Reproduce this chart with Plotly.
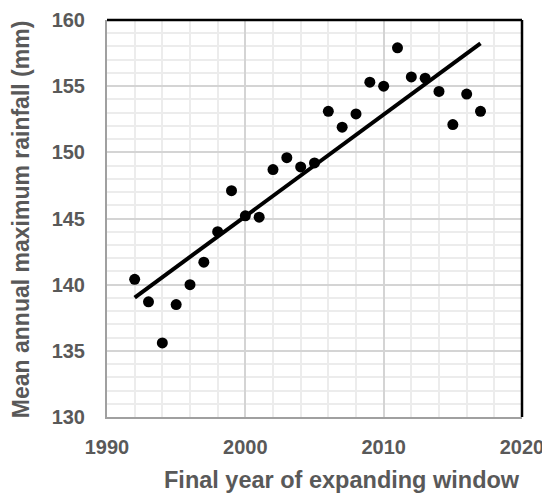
import numpy as np
import plotly.graph_objects as go

years = list(range(1992, 2018))
rainfall = [140.4, 138.7, 135.6, 138.5, 140.0, 141.7, 144.0, 147.1, 145.2, 145.1,
            148.7, 149.6, 148.9, 149.2, 153.1, 151.9, 152.9, 155.3, 155.0, 157.9,
            155.7, 155.6, 154.6, 152.1, 154.4, 153.1]

# linear trend through the points
slope, intercept = np.polyfit(years, rainfall, 1)
trend_x = [years[0], years[-1]]
trend_y = [slope * x + intercept for x in trend_x]

grey = "#595959"
font = "Liberation Sans, Arial, sans-serif"

fig = go.Figure()
fig.add_trace(go.Scatter(x=trend_x, y=trend_y, mode="lines",
                         line=dict(color="black", width=4), hoverinfo="skip"))
fig.add_trace(go.Scatter(x=years, y=rainfall, mode="markers",
                         marker=dict(color="black", size=11)))

fig.update_layout(
    width=550, height=500,
    margin=dict(l=99, r=36, t=12, b=91),
    paper_bgcolor="white", plot_bgcolor="white",
    showlegend=False,
    font=dict(family=font, color=grey, size=20),
    xaxis=dict(range=[1990, 2020], dtick=10, showgrid=True, gridcolor="#d4d4d4", gridwidth=1.5,
               minor=dict(dtick=2, showgrid=True, gridcolor="#ececec", gridwidth=1.5),
               showline=True, linecolor="#a0a0a0", linewidth=2, zeroline=False,
               tickfont=dict(family=font, size=20, color=grey, weight="bold"),
               ticklabelstandoff=11, ticklabeloverflow="allow", automargin=False),
    yaxis=dict(range=[130, 160], dtick=5, showgrid=True, gridcolor="#d4d4d4", gridwidth=1.5,
               minor=dict(dtick=1, showgrid=True, gridcolor="#ececec", gridwidth=1.5),
               showline=True, linecolor="#a0a0a0", linewidth=2, zeroline=False,
               tickfont=dict(family=font, size=20, color=grey, weight="bold"),
               ticklabelstandoff=16, ticklabeloverflow="allow", automargin=False),
)

# black frame on top and right
fig.add_shape(type="line", xref="paper", yref="paper", x0=0, x1=1, y0=1, y1=1,
              line=dict(color="black", width=2.5))
fig.add_shape(type="line", xref="paper", yref="paper", x0=1, x1=1, y0=0, y1=1,
              line=dict(color="black", width=2.5))

fig.add_annotation(text="Final year of expanding window", xref="paper", yref="paper",
                   x=0.566, y=-0.159, xanchor="center", yanchor="middle", showarrow=False,
                   font=dict(family=font, size=23.5, color=grey, weight="bold"))
fig.add_annotation(text="Mean annual maximum rainfall (mm)", xref="paper", yref="paper",
                   x=-0.207, y=0.496, xanchor="center", yanchor="middle", showarrow=False,
                   textangle=-90,
                   font=dict(family=font, size=23, color=grey, weight="bold"))

fig.write_html("out.html")
